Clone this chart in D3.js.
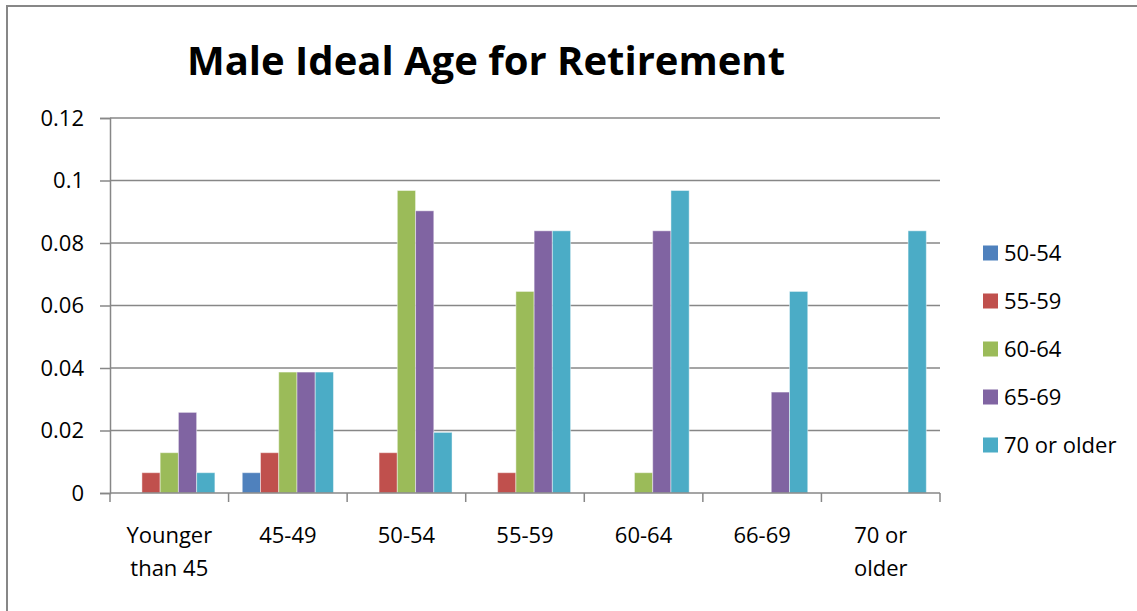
<!DOCTYPE html>
<html>
<head>
<meta charset="utf-8">
<script src="https://cdn.jsdelivr.net/npm/d3@7"></script>
<style>
  html, body { margin: 0; padding: 0; background: #fff; }
  svg { display: block; font-family: "Open Sans", "Liberation Sans", sans-serif; }
</style>
</head>
<body>
<svg id="chart" width="1137" height="611"></svg>
<script>
// Share of male respondents by ideal retirement age, split by respondent age band
const categories = [["Younger", "than 45"], ["45-49"], ["50-54"], ["55-59"], ["60-64"], ["66-69"], ["70 or", "older"]];
const seriesNames = ["50-54", "55-59", "60-64", "65-69", "70 or older"];
const seriesColors = ["#4F81BD", "#C0504D", "#9BBB59", "#8064A2", "#4BACC6"];

const s50_54 = [0, 0.0065, 0, 0, 0, 0, 0];
const s55_59 = [0.0065, 0.0129, 0.0129, 0.0065, 0, 0, 0];
const s60_64 = [0.0129, 0.0387, 0.0968, 0.0645, 0.0065, 0, 0];
const s65_69 = [0.0258, 0.0387, 0.0903, 0.0839, 0.0839, 0.0323, 0];
const s70_up = [0.0065, 0.0387, 0.0194, 0.0839, 0.0968, 0.0645, 0.0839];
const seriesValues = [s50_54, s55_59, s60_64, s65_69, s70_up];

const yTicks = [0, 0.02, 0.04, 0.06, 0.08, 0.1, 0.12];
const yTickLabels = ["0", "0.02", "0.04", "0.06", "0.08", "0.1", "0.12"];
const title = "Male Ideal Age for Retirement";

const svg = d3.select("#chart");
const plot = { left: 110, right: 940, top: 118, bottom: 493 };
const gridColor = "#878787";
const labelSize = 22;

// outer chart frame
svg.append("rect")
  .attr("x", 7).attr("y", 6).attr("width", 1140).attr("height", 620)
  .attr("fill", "none").attr("stroke", gridColor).attr("stroke-width", 2);

const x = d3.scaleBand().domain(d3.range(categories.length)).range([plot.left, plot.right]).paddingInner(0).paddingOuter(0);
const xInner = d3.scaleBand().domain(d3.range(seriesNames.length)).range([0, x.bandwidth()]).paddingInner(0).paddingOuter(0.75);
const y = d3.scaleLinear().domain([0, 0.12]).range([plot.bottom, plot.top]);

// horizontal gridlines
svg.append("g").selectAll("line").data(yTicks.filter(t => t > 0)).join("line")
  .attr("x1", plot.left).attr("x2", plot.right)
  .attr("y1", d => y(d)).attr("y2", d => y(d))
  .attr("stroke", gridColor).attr("stroke-width", 1.5);

// y axis
const yAxis = d3.axisLeft(y).tickValues(yTicks).tickSize(10).tickPadding(16)
  .tickFormat((d, i) => yTickLabels[i]);
const gy = svg.append("g").attr("transform", `translate(${plot.left},0)`).call(yAxis);
gy.select(".domain").attr("stroke", gridColor).attr("stroke-width", 1.5);
gy.selectAll(".tick line").attr("stroke", gridColor).attr("stroke-width", 1.5);
gy.selectAll(".tick text").attr("font-size", labelSize).attr("fill", "#000")
  .attr("font-family", "Open Sans, sans-serif");

// bars
const groups = svg.append("g").selectAll("g").data(seriesValues).join("g")
  .attr("fill", (d, i) => seriesColors[i]);
groups.each(function (vals, si) {
  d3.select(this).selectAll("rect").data(vals.map((v, ci) => ({ v, ci }))).join("rect")
    .filter(d => d.v > 0)
    .attr("x", d => x(d.ci) + xInner(si))
    .attr("width", xInner.bandwidth())
    .attr("y", d => y(d.v))
    .attr("height", d => y(0) - y(d.v))
    .attr("stroke", "rgba(255,255,255,0.45)")
    .attr("stroke-width", 1);
});

// x axis with category boundary ticks
const gx = svg.append("g");
gx.append("line").attr("x1", plot.left).attr("x2", plot.right)
  .attr("y1", plot.bottom).attr("y2", plot.bottom)
  .attr("stroke", gridColor).attr("stroke-width", 1.5);
const boundaries = d3.range(categories.length + 1).map(i => i < categories.length ? x(i) : x(i - 1) + x.bandwidth());
gx.selectAll("line.tk").data(boundaries).join("line").attr("class", "tk")
  .attr("x1", d => d).attr("x2", d => d)
  .attr("y1", plot.bottom).attr("y2", plot.bottom + 9)
  .attr("stroke", gridColor).attr("stroke-width", 1.5);
gx.selectAll("text.cat").data(categories).join("text").attr("class", "cat")
  .attr("x", (d, i) => x(i) + x.bandwidth() / 2)
  .attr("y", 543)
  .attr("text-anchor", "middle").attr("font-size", labelSize).attr("fill", "#000")
  .each(function (lines) {
    d3.select(this).selectAll("tspan").data(lines).join("tspan")
      .attr("x", d3.select(this).attr("x"))
      .attr("dy", (d, j) => j === 0 ? 0 : 33)
      .text(d => d);
  });

// title
svg.append("text").attr("x", 486).attr("y", 75)
  .attr("text-anchor", "middle").attr("font-weight", "bold").attr("font-size", 40)
  .attr("fill", "#000").text(title);

// legend
const legend = svg.append("g").selectAll("g").data(seriesNames).join("g")
  .attr("transform", (d, i) => `translate(983, ${253 + i * 48})`);
legend.append("rect").attr("x", 0).attr("y", -7.5).attr("width", 15).attr("height", 15)
  .attr("fill", (d, i) => seriesColors[i]);
legend.append("text").attr("x", 21).attr("y", 0).attr("dy", "0.35em")
  .attr("font-size", labelSize).attr("fill", "#000").text(d => d);
</script>
</body>
</html>
